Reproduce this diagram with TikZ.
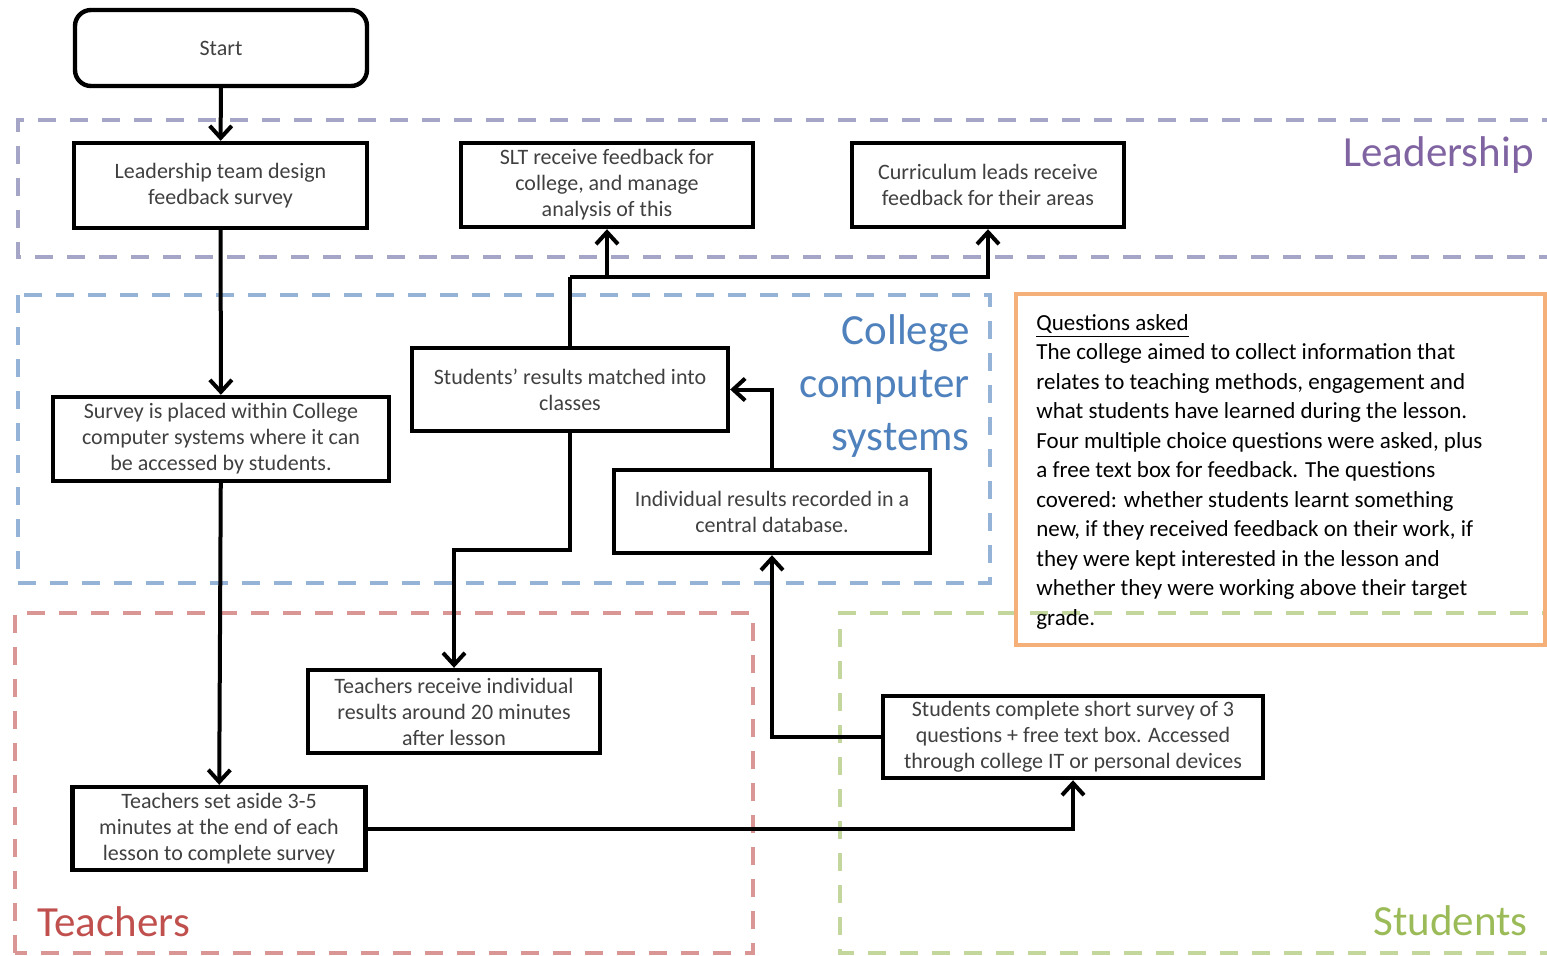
\documentclass[tikz,border=0pt]{standalone}
\usepackage{fontspec}
\setmainfont{Carlito}
\usetikzlibrary{arrows.meta}
\definecolor{txtgray}{RGB}{64,64,64}
\definecolor{leadc}{RGB}{165,165,200}
\definecolor{leadt}{RGB}{128,100,162}
\definecolor{collc}{RGB}{149,179,215}
\definecolor{collt}{RGB}{79,129,189}
\definecolor{teachc}{RGB}{217,150,148}
\definecolor{teacht}{RGB}{192,80,77}
\definecolor{studc}{RGB}{195,214,155}
\definecolor{studt}{RGB}{155,187,89}
\definecolor{qorange}{RGB}{245,175,120}
\tikzset{
  flowbox/.style={draw, line width=2.2pt, inner sep=0pt, align=center, text=txtgray,
    font=\fontsize{11}{13}\selectfont},
  lane/.style={line width=2pt, dash pattern=on 9pt off 7pt},
  lanelabel/.style={inner sep=0pt, font=\fontsize{21.5}{26.5}\selectfont},
  arr/.style={line width=2pt, -{Straight Barb[length=6pt, width=11pt, line width=2pt]}},
}
\begin{document}
\begin{tikzpicture}[x=0.5pt, y=-0.5pt]
\useasboundingbox (0,0) rectangle (1547,955);

% swimlanes
\draw[lane, leadc] (1560,120) -- (18,120) -- (18,257) -- (1560,257);
\draw[lane, collc] (18,295) rectangle (990,583);
\draw[lane, teachc] (15,953) -- (15,613) -- (753,613) -- (753,953) -- cycle;
\draw[lane, studc] (1560,613) -- (840,613) -- (840,953) -- (1560,953);

\node[lanelabel, text=leadt, anchor=east] (lleader) at (1534,155) {Leadership};
\node[lanelabel, text=collt, anchor=east, align=right] (lcoll) at (970,386) {College\\computer\\systems};
\node[lanelabel, text=teacht, anchor=west] (lteach) at (37,922) {Teachers};
\node[lanelabel, text=studt, anchor=east] (lstud) at (1528,921) {Students};

% questions box
\draw[line width=1.6pt, qorange] (1016,294) rectangle (1545,645);
\node[anchor=north west, inner sep=0pt, align=left, font=\fontsize{11.5}{14.75}\selectfont] (qtext) at (1036,314)
{\underline{Questions asked}\\
The college aimed to collect information that\\
relates to teaching methods, engagement and\\
what students have learned during the lesson.\\
Four multiple choice questions were asked, plus\\
a free text box for feedback. The questions\\
covered: whether students learnt something\\
new, if they received feedback on their work, if\\
they were kept interested in the lesson and\\
whether they were working above their target\\
grade.};

% nodes
\node[flowbox, rounded corners=8pt, minimum width=146pt, minimum height=38pt] (start) at (221,48) {Start};
\node[flowbox, minimum width=146.5pt, minimum height=42.5pt] (lead) at (220.5,185.5) {Leadership team design\\feedback survey};
\node[flowbox, minimum width=146pt, minimum height=42pt] (slt) at (607,185) {SLT receive feedback for\\college, and manage\\analysis of this};
\node[flowbox, minimum width=136pt, minimum height=42pt] (curr) at (988,185) {Curriculum leads receive\\feedback for their areas};
\node[flowbox, minimum width=168pt, minimum height=42pt] (survey) at (221,439) {Survey is placed within College\\computer systems where it can\\be accessed by students.};
\node[flowbox, minimum width=158pt, minimum height=41.5pt] (matched) at (570,389.5) {Students’ results matched into\\classes};
\node[flowbox, minimum width=158pt, minimum height=41.5pt] (indiv) at (772,511.5) {Individual results recorded in a\\central database.};
\node[flowbox, minimum width=146pt, minimum height=41.5pt] (trec) at (454,711.5) {Teachers receive individual\\results around 20 minutes\\after lesson};
\node[flowbox, minimum width=146.5pt, minimum height=41.5pt] (setaside) at (219,828.5) {Teachers set aside 3-5\\minutes at the end of each\\lesson to complete survey};
\node[flowbox, minimum width=190pt, minimum height=41pt] (studcomp) at (1073,737) {Students complete short survey of 3\\questions + free text box. Accessed\\through college IT or personal devices};

% connectors
\coordinate (j) at (570,277);
\coordinate (k) at (570,550);
\draw[arr] (start) -- (lead);
\draw[arr] (lead) -- (survey);
\draw[arr] (survey) -- (setaside);
\draw[arr] (setaside.east) -| (studcomp.south);
\draw[arr] (studcomp.west) -| (indiv.south);
\draw[arr] (indiv.north) |- (matched.east);
\draw[line width=2pt] (matched.north) -- (j);
\draw[arr] (j) -| (slt.south);
\draw[arr] (j) -| (curr.south);
\draw[arr] (matched.south) -- (k) -| (trec.north);
\end{tikzpicture}
\end{document}
